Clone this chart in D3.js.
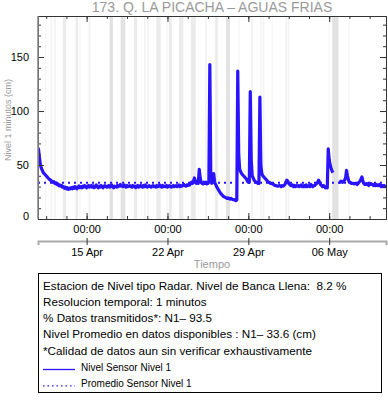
<!DOCTYPE html>
<html>
<head>
<meta charset="utf-8">
<script src="https://cdn.jsdelivr.net/npm/d3@7"></script>
<style>
body{margin:0;background:#fff}
svg{font-family:"Liberation Sans",Arial,Helvetica,sans-serif}
.frame{fill:none;stroke:#333;stroke-width:1}
.axis path{stroke:none}
.axis line{stroke:#333}
.gray{fill:#9a9a9a}
</style>
</head>
<body>
<svg id="graph"></svg>
<script>
var title="173. Q. LA PICACHA \u2013 AGUAS FRIAS"

// nivel (cm), one reading every 2 hours from startTime, one row per day
var startTime="2024-04-10 18:00"
var stepHours=2
var nivel=[
 62,65,57,50,47,45,43,42,41,40,39,38,
 37,36.5,35.5,35,34,34.5,33,33.5,32,32.5,31,31.5,
 30.5,31,29.5,30,28.5,29.5,28,29,27.5,28.5,28,29,
 28,29.5,28.5,30,29,28,29.5,30.5,29,30,29,30.5,
 29.5,31,30,29,30.5,31,29.5,30,31,29.5,30.5,29,
 30,31.5,30,29,30.5,29.5,31,30,29,30.5,31,30,
 29.5,30.5,31,29.5,30,31.5,30,29,30.5,30,29.5,31,
 30,31,32,30.5,31,30,31.5,30.5,29.5,31,30,30.5,
 31,30,29.5,31,30,30.5,29,30.5,31,29.5,30,31,
 30,29.5,31,30,31.5,30,29.5,30.5,31,30,29.5,30.5,
 31,30,30.5,29.5,31,30,30.5,31.5,30,29.5,31,30,
 30.5,30,31,29.5,30,31,30.5,29.5,30,31,30,30.5,
 31,30,30.5,31.5,30,31,30.5,31,32,31,30.5,31.5,
 31,32,31.5,33,34,33,35,38,35,33,34,33,
 46,38,34,33,32.5,34,33,34,32.5,33,34,143,
 40,33,36,42,34,32,30,28.5,27,25.5,24,23,
 22,21,20.5,20,19.5,19,19.5,19,18.5,19,18.5,18,
 18,17.5,17,17.5,137,60,46,44,42,41,40,39,
 38,37,35,34,34,118,55,40,38,36,35,34,
 34,33,33,113,50,42,40,39,38,37,36,35,
 34,34,33,33,32.5,32,31.5,31,31,30.5,30.5,31,
 31,30,31,30.5,31,32,34,36,35,33,32,31,
 31,31.5,30,31,30,31,30.5,31,30,31,31.5,30,
 30,31,30,31.5,30,30.5,31,30,32,31,30,31,
 31,32,33,34,36,34,32,31,30,31,30,29,
 30,29,65,55,50,47,44.5,43,null,null,null,null,
 null,34,34,35,34.5,34,35,36,38,45,40,36,
 34,34,33,33,33,32.5,33,33,32,33,34,35,
 37,39,35,33,32,32,33,32,31,32,33,32,
 32,31,32,31,32,31,31,32,31,30,31,30,
 31,30,30,30
]
var promedio=33.6

// periods with missing data (gapShare: 1 few, 3 many)
var gapStart=["2024-04-11 10:00","2024-04-11 21:20","2024-04-12 04:00","2024-04-12 22:40","2024-04-14 01:00","2024-04-14 09:00","2024-04-15 04:00","2024-04-16 23:50","2024-04-17 22:40","2024-04-19 02:20","2024-04-19 23:10","2024-04-20 06:00","2024-04-21 00:50","2024-04-21 22:20","2024-04-22 03:10","2024-04-23 00:00","2024-04-24 00:20","2024-04-25 06:00","2024-04-26 03:00","2024-04-27 01:40","2024-04-28 03:20","2024-04-29 05:40","2024-04-30 01:00","2024-04-30 05:40","2024-05-01 00:30","2024-05-02 04:30","2024-05-02 09:40","2024-05-05 22:30","2024-05-06 06:10","2024-05-07 16:00"]
var gapEnd=["2024-04-11 12:00","2024-04-12 00:10","2024-04-12 08:00","2024-04-13 05:30","2024-04-14 06:00","2024-04-14 10:00","2024-04-15 08:20","2024-04-17 06:40","2024-04-18 08:20","2024-04-19 08:40","2024-04-20 02:40","2024-04-20 09:00","2024-04-21 10:00","2024-04-22 00:30","2024-04-22 08:50","2024-04-23 09:00","2024-04-24 10:40","2024-04-25 09:40","2024-04-26 08:30","2024-04-27 10:00","2024-04-28 05:20","2024-04-29 09:50","2024-04-30 04:00","2024-04-30 09:20","2024-05-01 02:30","2024-05-02 08:40","2024-05-02 12:50","2024-05-06 00:00","2024-05-06 19:20","2024-05-07 18:00"]
var gapShare=[1,1,1,2,2,1,1,3,3,2,1,1,2,1,2,2,2,1,2,3,1,1,1,1,1,1,1,1,3,1]

var timeRange=["2024-04-10 19:00","2024-05-10 22:00"]
var dateTicks=["2024-04-15 00:00","2024-04-22 00:00","2024-04-29 00:00","2024-05-06 00:00"]
var minorStepHours=42
var yRange=[0,188]
var yTicks=[0,50,100,150]
var yMinorStep=10

var infoLines=[
 "Estacion de Nivel tipo Radar. Nivel de Banca Llena:  8.2 %",
 "Resolucion temporal: 1 minutos",
 "% Datos transmitidos*: N1\u2013 93.5",
 "Nivel Promedio en datos disponibles : N1\u2013 33.6 (cm)",
 "*Calidad de datos aun sin verificar exhaustivamente"
]
var legendNames=["Nivel Sensor Nivel 1","Promedio Sensor Nivel 1"]

var parse=d3.timeParse("%Y-%m-%d %H:%M")
var blue="#2a14ff"

var initGraph=function()
    {
        var screen={width:388,height:404}
        var margins={left:38,right:2,top:16,bottom:185}
        var graph=
            {
                width:screen.width-margins.left-margins.right,
                height:screen.height-margins.top-margins.bottom
            }

        var svg=d3.select("#graph")
            .attr("width",screen.width)
            .attr("height",screen.height)

        var xScale=d3.scaleTime()
            .domain(timeRange.map(parse))
            .range([0,graph.width])
        var yScale=d3.scaleLinear()
            .domain(yRange)
            .range([graph.height,0])

        var target=svg.append("g")
            .attr("id","canvas")
            .attr("transform","translate("+margins.left+","+margins.top+")")

        target.append("clipPath")
            .attr("id","clip")
            .append("rect")
            .attr("width",graph.width)
            .attr("height",graph.height)

        drawGaps(target,graph,xScale)
        drawLines(target,xScale,yScale)
        drawAxes(target,graph,xScale,yScale)
        drawLabels(svg,graph,margins)
        drawLegend(svg,margins)
    }

var drawGaps=function(target,graph,xScale)
    {
        var shade=d3.scaleLinear().domain([1,3]).range(["#f3f3f3","#e2e2e2"])
        var gaps=gapStart.map(function(s,i){return {s:parse(s),e:parse(gapEnd[i]),k:gapShare[i]}})
        target.append("g")
            .attr("clip-path","url(#clip)")
            .selectAll("rect")
            .data(gaps)
            .enter()
            .append("rect")
            .attr("x",function(d){return xScale(d.s)})
            .attr("width",function(d){return Math.max(1,xScale(d.e)-xScale(d.s))})
            .attr("y",0)
            .attr("height",graph.height)
            .attr("fill",function(d){return shade(d.k)})
    }

var drawLines=function(target,xScale,yScale)
    {
        var t0=parse(startTime)
        var points=nivel.map(function(v,i)
            {
                return {t:d3.timeHour.offset(t0,i*stepHours),v:v}
            })
        var lineGenerator=d3.line()
            .defined(function(d){return d.v!==null})
            .x(function(d){return xScale(d.t)})
            .y(function(d){return yScale(d.v)})

        var g=target.append("g").attr("clip-path","url(#clip)")
        g.append("path")
            .datum(points)
            .attr("d",lineGenerator)
            .attr("fill","none")
            .attr("stroke",blue)
            .attr("stroke-width",3.2)
            .attr("stroke-linejoin","round")

        var dom=xScale.domain()
        g.append("line")
            .attr("x1",xScale(dom[0]))
            .attr("x2",xScale(dom[1]))
            .attr("y1",yScale(promedio))
            .attr("y2",yScale(promedio))
            .attr("stroke",blue)
            .attr("stroke-width",2)
            .attr("stroke-dasharray","2,4")
    }

var drawAxes=function(target,graph,xScale,yScale)
    {
        var majors=dateTicks.map(parse)
        var dom=xScale.domain()
        var minors=d3.range(-4,24).map(function(i){return d3.timeHour.offset(majors[0],i*minorStepHours)})
            .filter(function(d){return d>=dom[0]&&d<=dom[1]})
        var yMinors=d3.range(yRange[0],yRange[1],yMinorStep)

        // x ticks, bottom and top, inward
        target.append("g").attr("class","axis")
            .attr("transform","translate(0,"+graph.height+")")
            .call(d3.axisBottom(xScale).tickValues(minors).tickSize(-3).tickFormat(""))
        target.append("g").attr("class","axis")
            .call(d3.axisTop(xScale).tickValues(minors).tickSize(-3).tickFormat(""))
        target.append("g").attr("class","axis")
            .attr("transform","translate(0,"+graph.height+")")
            .call(d3.axisBottom(xScale).tickValues(majors).tickSize(-6).tickPadding(6).tickFormat(d3.timeFormat("%H:%M")))
            .selectAll("text").attr("font-size",11).attr("fill","#000")
        target.append("g").attr("class","axis")
            .call(d3.axisTop(xScale).tickValues(majors).tickSize(-6).tickFormat(""))

        // y ticks, left and right, inward
        target.append("g").attr("class","axis")
            .call(d3.axisLeft(yScale).tickValues(yMinors).tickSize(-3).tickFormat(""))
        target.append("g").attr("class","axis")
            .attr("transform","translate("+graph.width+",0)")
            .call(d3.axisRight(yScale).tickValues(yMinors).tickSize(-3).tickFormat(""))
        target.append("g").attr("class","axis")
            .call(d3.axisLeft(yScale).tickValues(yTicks).tickSize(-6).tickPadding(9))
            .selectAll("text").attr("font-size",11).attr("fill","#000")
            .attr("dy",function(d){return d==0?"0.05em":"0.32em"})
        target.append("g").attr("class","axis")
            .attr("transform","translate("+graph.width+",0)")
            .call(d3.axisRight(yScale).tickValues(yTicks).tickSize(-6).tickFormat(""))

        target.append("rect")
            .attr("class","frame")
            .attr("x",0.5)
            .attr("y",0.5)
            .attr("width",graph.width)
            .attr("height",graph.height)
        target.append("line")
            .attr("x1",0).attr("x2",0)
            .attr("y1",0).attr("y2",graph.height)
            .attr("stroke","#888")
            .attr("stroke-width",1.6)

        // second row with dates
        var dates=target.append("g").attr("class","axis dates")
            .attr("transform","translate(0,"+(graph.height+22)+")")
            .call(d3.axisBottom(xScale).tickValues(majors).tickSize(4).tickPadding(3).tickFormat(d3.timeFormat("%d %b")))
        dates.select("path").style("stroke","#aaa").style("stroke-width",2)
        dates.selectAll("text").attr("font-size",11).attr("fill","#000")
        dates.selectAll("line").attr("y1",-3)
    }

var drawLabels=function(svg,graph,margins)
    {
        var labels=svg.append("g").classed("labels",true)
        labels.append("text")
            .text(title)
            .attr("class","gray")
            .attr("font-size",14)
            .attr("text-anchor","middle")
            .attr("x",margins.left+graph.width/2)
            .attr("y",12)
        labels.append("text")
            .text("Tiempo")
            .attr("class","gray")
            .attr("font-size",11)
            .attr("text-anchor","middle")
            .attr("x",margins.left+graph.width/2)
            .attr("y",268)
        labels.append("g")
            .attr("transform","translate(11,120)")
            .append("text")
            .text("Nivel 1 minutos (cm)")
            .attr("class","gray")
            .attr("font-size",9)
            .attr("text-anchor","middle")
            .attr("transform","rotate(-90)")
    }

var drawLegend=function(svg,margins)
    {
        var box=svg.append("g").attr("class","legend")
        box.append("rect")
            .attr("x",margins.left+0.5)
            .attr("y",273.5)
            .attr("width",343)
            .attr("height",119)
            .attr("fill","none")
            .attr("stroke","#000")
        box.selectAll("text.info")
            .data(infoLines)
            .enter()
            .append("text")
            .attr("class","info")
            .attr("x",43)
            .attr("y",function(d,i){return 289.5+i*16.3})
            .attr("font-size",11.7)
            .style("white-space","pre")
            .text(function(d){return d})
        var items=box.selectAll("g.item")
            .data(legendNames)
            .enter()
            .append("g")
            .attr("class","item")
            .attr("transform",function(d,i){return "translate(43,"+(370.5+i*16.3)+")"})
        items.append("line")
            .attr("x1",0).attr("x2",32)
            .attr("y1",-1).attr("y2",-1)
            .attr("stroke",blue)
            .attr("stroke-width",1.3)
            .attr("stroke-dasharray",function(d,i){return i==0?null:"1.5,3"})
        items.append("text")
            .attr("x",38)
            .attr("font-size",10)
            .text(function(d){return d})
    }

initGraph()
</script>
</body>
</html>
